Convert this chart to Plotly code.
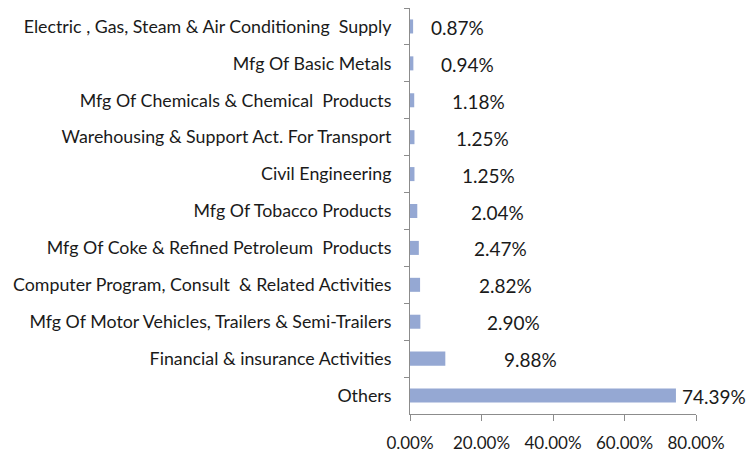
import plotly.graph_objects as go

# Sector shares, listed top to bottom
sectors = [
    "Electric , Gas, Steam & Air Conditioning \u00a0Supply",
    "Mfg Of Basic Metals",
    "Mfg Of Chemicals & Chemical \u00a0Products",
    "Warehousing & Support Act. For Transport",
    "Civil Engineering",
    "Mfg Of Tobacco Products",
    "Mfg Of Coke & Refined Petroleum \u00a0Products",
    "Computer Program, Consult \u00a0& Related Activities",
    "Mfg Of Motor Vehicles, Trailers & Semi-Trailers",
    "Financial & insurance Activities",
    "Others",
]
shares = [0.0087, 0.0094, 0.0118, 0.0125, 0.0125, 0.0204, 0.0247, 0.0282, 0.0290, 0.0988, 0.7439]

# Horizontal pixel offsets of the value labels from the bar ends
label_shift = [16, 26, 36, 40, 46, 52, 53, 57, 65, 57, 4]

FONT = "Lato"
TEXT = "#1a1a1a"
AXIS = "#8c8c8c"

fig = go.Figure(
    go.Bar(
        x=shares,
        y=sectors,
        orientation="h",
        width=0.38,
        marker=dict(color="#95a8d3", line=dict(width=0)),
        hoverinfo="skip",
    )
)

for s, v, dx in zip(sectors, shares, label_shift):
    fig.add_annotation(
        x=v, y=s, xref="x", yref="y",
        text=f"{v:.2%}", showarrow=False,
        xanchor="left", yanchor="middle", xshift=dx, yshift=-1,
        font=dict(family=FONT, size=19, color=TEXT),
    )

fig.update_layout(
    width=750, height=455,
    margin=dict(l=410, r=54, t=8, b=41),
    paper_bgcolor="white", plot_bgcolor="white",
    showlegend=False,
    font=dict(family=FONT, size=17, color=TEXT),
    bargap=0.6,
)
fig.update_xaxes(
    range=[0, 0.8], dtick=0.2, tickformat=".2%",
    automargin=False,
    showgrid=False, zeroline=False,
    showline=True, linecolor=AXIS, linewidth=1,
    ticks="outside", ticklen=6, tickcolor=AXIS,
    ticklabelstandoff=8,
    tickfont=dict(family=FONT, size=17, color=TEXT),
)
fig.update_yaxes(
    type="category", range=[10.5, -0.5],
    automargin=False,
    showgrid=False, zeroline=False,
    showline=True, linecolor=AXIS, linewidth=1,
    ticks="outside", tickson="boundaries", ticklen=5, tickcolor=AXIS,
    ticklabelstandoff=14,
    tickfont=dict(family=FONT, size=17.8, color=TEXT),
)

fig.write_html("out.html")
